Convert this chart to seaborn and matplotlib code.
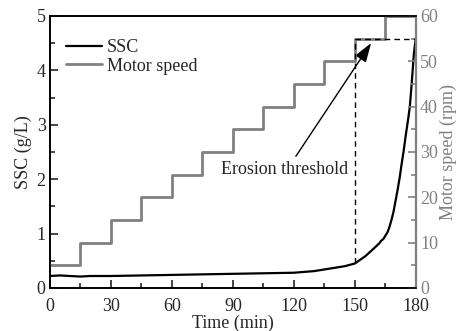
import numpy as np
import pandas as pd
import matplotlib
matplotlib.use("Agg")
import matplotlib.pyplot as plt
import seaborn as sns
from matplotlib.lines import Line2D
from matplotlib.ticker import MultipleLocator

# ---- data ----
ssc_time = [0, 5, 10, 15, 20, 30, 45, 60, 75, 90, 105, 120, 130, 135, 140, 145,
            150, 155, 158, 160, 162, 163, 164, 166, 167, 168, 169, 170, 171, 172,
            173, 174, 175, 176, 177, 178, 179, 180]
ssc_vals = [0.22, 0.23, 0.22, 0.21, 0.22, 0.22, 0.23, 0.24, 0.25, 0.26, 0.27, 0.28,
            0.31, 0.34, 0.37, 0.40, 0.45, 0.58, 0.68, 0.75, 0.82, 0.87, 0.90, 1.02,
            1.12, 1.25, 1.40, 1.60, 1.80, 2.02, 2.28, 2.52, 2.80, 3.05, 3.32, 3.78,
            4.30, 4.60]
motor_time = [0, 15, 30, 45, 60, 75, 90, 105, 120, 135, 150, 165, 180]
motor_rpm = [5, 10, 15, 20, 25, 30, 35, 40, 45, 50, 55, 60, 60]
threshold_time = 150
threshold_ssc = 0.45
threshold_rpm = 55
x_ticks = [0, 30, 60, 90, 120, 150, 180]
legend_labels = ["SSC", "Motor speed"]
annot_text = "Erosion threshold"

sns.set_style("ticks")
plt.rcParams["font.family"] = ["Liberation Serif", "DejaVu Serif"]
plt.rcParams["font.size"] = 13

GRAY = "#808080"
FS = 13

fig = plt.figure(figsize=(4.57, 3.31), dpi=100)
ax = fig.add_axes([0.109, 0.13, 0.801, 0.822])
ax2 = ax.twinx()

df_ssc = pd.DataFrame({"t": ssc_time, "ssc": ssc_vals})
df_motor = pd.DataFrame({"t": motor_time, "rpm": motor_rpm})

sns.lineplot(data=df_ssc, x="t", y="ssc", ax=ax, color="black", lw=1.6)
sns.lineplot(data=df_motor, x="t", y="rpm", ax=ax2, color=GRAY, lw=2.0,
             drawstyle="steps-post")

# threshold dashed lines
ax2.plot([threshold_time, threshold_time], [threshold_ssc * 12, threshold_rpm],
         color="black", lw=1.0, ls=(0, (4, 3)))
ax2.plot([threshold_time, 180], [threshold_rpm, threshold_rpm],
         color="black", lw=1.0, ls=(0, (4, 3)))

ax.set_xlim(0, 180)
ax.set_ylim(0, 5)
ax2.set_ylim(0, 60)
ax.set_xticks(x_ticks)
ax.xaxis.set_minor_locator(MultipleLocator(15))
ax.yaxis.set_major_locator(MultipleLocator(1))
ax.yaxis.set_minor_locator(MultipleLocator(0.5))
ax2.yaxis.set_major_locator(MultipleLocator(10))
ax2.yaxis.set_minor_locator(MultipleLocator(5))

ax.set_xlabel("Time (min)", fontsize=FS, labelpad=0)
ax.set_ylabel("SSC (g/L)", fontsize=FS, labelpad=3)
ax2.set_ylabel("Motor speed (rpm)", fontsize=FS, color=GRAY, labelpad=1)

ax.tick_params(axis="both", which="major", direction="in", length=6, width=1.2,
               labelsize=FS, pad=3)
ax.tick_params(axis="both", which="minor", direction="in", length=3.5, width=1.2)
ax.tick_params(top=False, which="both")
ax.tick_params(axis="x", pad=7)
ax2.tick_params(axis="y", which="major", direction="in", length=6, width=1.2,
                labelsize=FS, colors=GRAY, pad=3)
ax2.tick_params(axis="y", which="minor", direction="in", length=3.5, width=1.2,
                colors=GRAY)

for s in ["left", "bottom", "top"]:
    ax.spines[s].set_linewidth(1.2)
    ax.spines[s].set_color("black")
    ax2.spines[s].set_linewidth(1.2)
    ax2.spines[s].set_color("black")
ax2.spines["right"].set_color(GRAY)
ax2.spines["right"].set_linewidth(1.6)
ax.spines["right"].set_visible(False)

# annotation
ax.annotate("", xy=(158, 4.50), xytext=(121, 2.42),
            arrowprops=dict(arrowstyle="-|>,head_length=0.9,head_width=0.3",
                            color="black", lw=1.0, shrinkA=0, shrinkB=0))
ax.text(84.0, 2.18, annot_text, fontsize=FS, va="center", ha="left")

handles = [Line2D([], [], color="black", lw=1.6),
           Line2D([], [], color=GRAY, lw=2.0)]
ax2.legend(handles, legend_labels, loc="upper left", frameon=False, fontsize=FS,
           handlelength=2.0, handletextpad=0.25, labelspacing=0.1,
           bbox_to_anchor=(0.0, 0.975), borderaxespad=0.5)

fig.savefig("out.png", dpi=100)
